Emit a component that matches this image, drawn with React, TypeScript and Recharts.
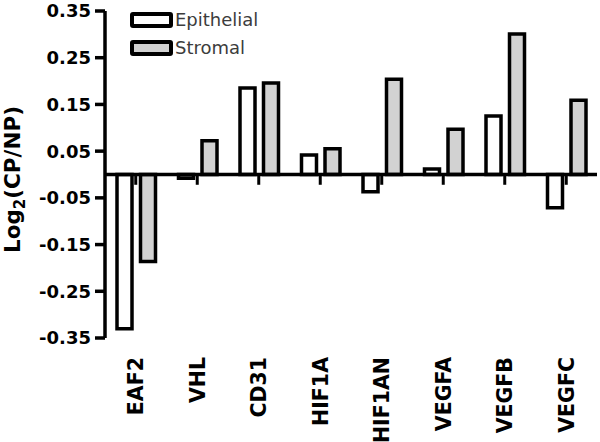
import React from 'react';
import { BarChart, Bar, XAxis, YAxis, ReferenceLine, Legend } from 'recharts';

const categories = ['EAF2', 'VHL', 'CD31', 'HIF1A', 'HIF1AN', 'VEGFA', 'VEGFB', 'VEGFC'];
const epithelial = [-0.33, -0.008, 0.185, 0.042, -0.037, 0.012, 0.125, -0.071];
const stromal = [-0.186, 0.072, 0.196, 0.055, 0.204, 0.097, 0.301, 0.159];
const yTicks = [0.35, 0.25, 0.15, 0.05, -0.05, -0.15, -0.25, -0.35];
const seriesNames = ['Epithelial', 'Stromal'];
const seriesFills = ['#ffffff', '#d2d2d2'];

const data = categories.map((c, i) => ({ name: c, epi: epithelial[i], str: stromal[i] }));

const BOLD = "'DejaVu Sans', sans-serif";

const XTick = (props: any) => {
  const { x, y, payload } = props;
  const ay = y + 19;
  return (
    <text
      x={x}
      y={ay}
      dy="0.36em"
      transform={`rotate(-90 ${x} ${ay})`}
      textAnchor="end"
      fontFamily={BOLD}
      fontWeight="bold"
      fontSize={20.5}
      fill="#000"
    >
      {payload.value}
    </text>
  );
};

const YLabel = (props: any) => {
  const vb = props.viewBox || {};
  const cx = 20;
  const cy = vb.y + vb.height / 2 + 5;
  return (
    <text
      x={cx}
      y={cy}
      transform={`rotate(-90 ${cx} ${cy})`}
      textAnchor="middle"
      fontFamily={BOLD}
      fontWeight="bold"
      fontSize={21.5}
      fill="#000"
    >
      Log
      <tspan fontSize={15} dy={5}>2</tspan>
      <tspan dy={-5}>(CP/NP)</tspan>
    </text>
  );
};

const LegendContent = (props: any) => {
  const payload = props.payload || [];
  return (
    <div style={{ display: 'flex', flexDirection: 'column', gap: 12 }}>
      {payload.map((e: any, i: number) => (
        <div key={i} style={{ display: 'flex', alignItems: 'center', height: 16 }}>
          <div
            style={{
              width: 35,
              height: 8,
              border: '4px solid #000',
              borderRadius: 3,
              background: e.color,
            }}
          />
          <span
            style={{
              marginLeft: 2,
              fontFamily: "'DejaVu Sans', sans-serif",
              fontSize: 18,
              color: '#3c3c3c',
              lineHeight: '16px',
            }}
          >
            {e.value}
          </span>
        </div>
      ))}
    </div>
  );
};

export default function App() {
  return (
    <div style={{ position: 'absolute', left: 0, top: 0, background: '#fff' }}>
      <BarChart
        width={600}
        height={442}
        data={data}
        margin={{ top: 11, right: 3, bottom: 0, left: 0 }}
        barSize={15}
        barGap={8.5}
      >
        <XAxis
          dataKey="name"
          axisLine={false}
          tickLine={false}
          tickSize={0}
          tickMargin={0}
          height={104}
          interval={0}
          tick={<XTick />}
        />
        <YAxis
          width={105}
          domain={[-0.35, 0.35]}
          ticks={yTicks}
          interval={0}
          allowDataOverflow
          tickFormatter={(v: number) => v.toFixed(2)}
          axisLine={{ stroke: '#000', strokeWidth: 3.5 }}
          tickLine={{ stroke: '#000', strokeWidth: 3.5 }}
          tickSize={10}
          tickMargin={4}
          tick={{ fill: '#000', fontSize: 18, fontWeight: 'bold', fontFamily: BOLD }}
          label={<YLabel />}
        />
        <Legend
          layout="vertical"
          align="center"
          verticalAlign="middle"
          content={<LegendContent />}
          wrapperStyle={{ left: 130, top: 12, width: 'auto', height: 'auto' }}
        />
        <Bar
          dataKey="epi"
          name={seriesNames[0]}
          fill={seriesFills[0]}
          stroke="#000"
          strokeWidth={3.5}
          isAnimationActive={false}
        />
        <Bar
          dataKey="str"
          name={seriesNames[1]}
          fill={seriesFills[1]}
          stroke="#000"
          strokeWidth={3.5}
          isAnimationActive={false}
        />
        <ReferenceLine y={0} stroke="#000" strokeWidth={3.5} />
        {categories.map((c) => (
          <ReferenceLine
            key={c}
            segment={[{ x: c, y: 0 }, { x: c, y: -0.022 }]}
            stroke="#000"
            strokeWidth={3}
          />
        ))}
      </BarChart>
    </div>
  );
}
